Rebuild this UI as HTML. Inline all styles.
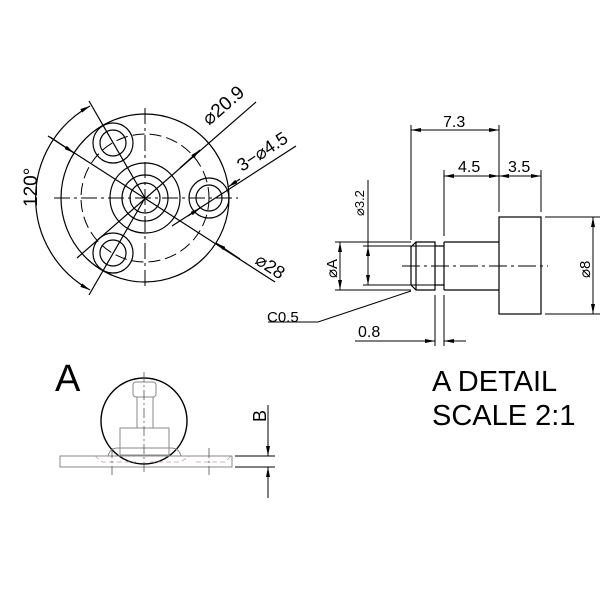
<!DOCTYPE html>
<html><head><meta charset="utf-8"><style>
html,body{margin:0;padding:0;background:#fff;}
svg{display:block;}
text{font-family:"Liberation Sans",Arial,sans-serif;fill:#000;}
</style></head><body>
<svg width="600" height="600" viewBox="0 0 600 600" xmlns="http://www.w3.org/2000/svg">
<defs>
<marker id="a" viewBox="0 0 10 4" refX="10" refY="2" markerWidth="10" markerHeight="4" orient="auto-start-reverse" markerUnits="userSpaceOnUse"><path d="M0,0 L10,2 L0,4z" fill="#000"/></marker>
</defs>
<g fill="none" stroke="#000" stroke-width="1.2">
<circle cx="145" cy="198" r="84"/>
<circle cx="145" cy="198" r="64" stroke-dasharray="12,5" stroke-width="1"/>
<circle cx="145" cy="198" r="35"/>
<circle cx="145" cy="198" r="23"/>
<circle cx="145" cy="198" r="15"/>
<circle cx="209" cy="198" r="20"/><circle cx="209" cy="198" r="13"/>
<circle cx="113" cy="143" r="20"/><circle cx="113" cy="143" r="13"/>
<circle cx="113" cy="253" r="20"/><circle cx="113" cy="253" r="13"/>
<g stroke-width="1" stroke-dasharray="16,4,3,4">
<line x1="54" y1="198" x2="238" y2="198"/>
<line x1="145" y1="108" x2="145" y2="290"/>
</g>
<line x1="89" y1="101" x2="145" y2="198"/>
<line x1="89" y1="295" x2="145" y2="198"/>
<path d="M90,106 A105,105 0 0 0 90,290" marker-start="url(#a)" marker-end="url(#a)"/>
<line x1="48" y1="136" x2="275" y2="282"/>
<line x1="50" y1="137" x2="74" y2="153" marker-end="url(#a)"/>
<line x1="240" y1="259" x2="216" y2="243" marker-end="url(#a)"/>
<line x1="77" y1="258" x2="256" y2="102"/>
<line x1="180" y1="168" x2="200" y2="150" marker-end="url(#a)"/>
<line x1="172" y1="226" x2="296" y2="146"/>
<line x1="200" y1="208" x2="188" y2="216" marker-start="url(#a)"/>
<line x1="240" y1="179" x2="228" y2="187" marker-end="url(#a)"/>
<rect x="499" y="217" width="42" height="97"/>
<path d="M444,242 H499 M444,290 H499 M444,242 V290"/>
<path d="M416,242 H435 V290 H416 L411,285 V247 Z"/>
<path d="M416,242 L416,290"/>
<path d="M435,246 H444 M435,285 H444"/>
<path d="M363,246 H435 M363,285 H435" stroke-width="1"/>
<line x1="402" y1="266" x2="548" y2="266" stroke-dasharray="18,4,3,4" stroke-width="1"/>
<g stroke-width="1">
<line x1="411" y1="125" x2="411" y2="240"/>
<line x1="499" y1="125" x2="499" y2="212"/>
<line x1="411" y1="130" x2="499" y2="130" marker-start="url(#a)" marker-end="url(#a)"/>
<line x1="444" y1="170" x2="444" y2="236"/>
<line x1="541" y1="170" x2="541" y2="212"/>
<line x1="444" y1="176" x2="499" y2="176" marker-start="url(#a)" marker-end="url(#a)"/>
<line x1="499" y1="176" x2="541" y2="176" marker-start="url(#a)" marker-end="url(#a)"/>
<line x1="368" y1="180" x2="368" y2="246"/>
<line x1="368" y1="246" x2="368" y2="285" marker-start="url(#a)" marker-end="url(#a)"/>
<line x1="335" y1="242" x2="411" y2="242"/>
<line x1="335" y1="290" x2="411" y2="290"/>
<line x1="340" y1="242" x2="340" y2="290" marker-start="url(#a)" marker-end="url(#a)"/>
<line x1="545" y1="217" x2="600" y2="217"/>
<line x1="545" y1="314" x2="600" y2="314"/>
<line x1="593" y1="217" x2="593" y2="314" marker-start="url(#a)" marker-end="url(#a)"/>
<path d="M411,291 L318,322 H268"/>
<line x1="435" y1="295" x2="435" y2="346"/>
<line x1="444" y1="295" x2="444" y2="346"/>
<line x1="355" y1="341" x2="435" y2="341" marker-end="url(#a)"/>
<line x1="466" y1="341" x2="444" y2="341" marker-end="url(#a)"/>
</g>
<circle cx="144" cy="421" r="43" stroke-width="1.4"/>
<g stroke="#888" stroke-width="1">
<rect x="60" y="456" width="172" height="11"/>
<rect x="133" y="382" width="23" height="15" rx="3"/>
<rect x="137" y="397" width="16" height="31"/>
<rect x="120" y="428" width="49" height="27"/>
<path d="M108,456 Q110,448 118,448 H171 Q179,448 181,456"/>
</g>
<g stroke="#c99" stroke-width="0.8" stroke-dasharray="5,3">
<path d="M95,456 L102,462 H136 M150,462 H180 L190,456"/>
<path d="M196,462 H225 L231,456"/>
</g>
<g stroke="#555" stroke-width="0.8" stroke-dasharray="10,3,2,3">
<line x1="144" y1="372" x2="144" y2="475"/>
<line x1="112" y1="448" x2="112" y2="475"/>
<line x1="209" y1="448" x2="209" y2="475"/>
</g>
<g stroke-width="1">
<line x1="235" y1="456" x2="275" y2="456"/>
<line x1="235" y1="467" x2="275" y2="467"/>
<line x1="268" y1="405" x2="268" y2="456" marker-end="url(#a)"/>
<line x1="268" y1="498" x2="268" y2="467" marker-end="url(#a)"/>
</g>
</g>
<text x="0" y="0" font-size="19" transform="translate(37,207) rotate(-90)">120°</text>
<text x="0" y="0" font-size="19" transform="translate(209,126) rotate(-41)">⌀20.9</text>
<text x="0" y="0" font-size="18" transform="translate(242,172) rotate(-33)">3−⌀4.5</text>
<text x="0" y="0" font-size="18" transform="translate(254,263) rotate(33)">⌀28</text>
<text x="443" y="127" font-size="16">7.3</text>
<text x="458" y="172" font-size="16">4.5</text>
<text x="508" y="172" font-size="16">3.5</text>
<text x="0" y="0" font-size="13" transform="translate(364,216) rotate(-90)">⌀3.2</text>
<text x="0" y="0" font-size="15" transform="translate(337,278) rotate(-90)">⌀A</text>
<text x="0" y="0" font-size="15" transform="translate(590,278) rotate(-90)">⌀8</text>
<text x="267" y="322" font-size="15">C0.5</text>
<text x="358" y="337" font-size="16">0.8</text>
<text x="55" y="391" font-size="38">A</text>
<text x="0" y="0" font-size="18" transform="translate(266,422) rotate(-90)">B</text>
<text x="432" y="391" font-size="29">A DETAIL</text>
<text x="432" y="425" font-size="29">SCALE 2:1</text>
</svg>
</body></html>
